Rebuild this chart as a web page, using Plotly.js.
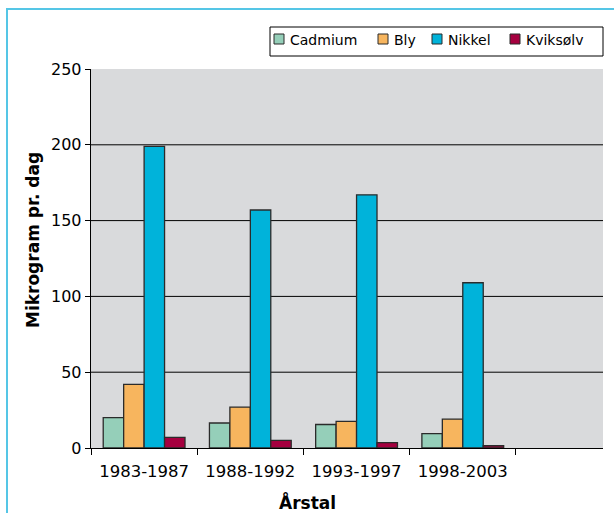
<!DOCTYPE html>
<html>
<head>
<meta charset="utf-8">
<script src="https://cdn.plot.ly/plotly-3.0.1.min.js"></script>
<style>
html, body { margin:0; padding:0; background:#ffffff; overflow:hidden; }
#frame { position:absolute; left:6px; top:8px; width:700px; height:600px; border:2px solid #55c6e6; box-sizing:border-box; }
#chart { position:absolute; left:0; top:0; width:614px; height:513px; }
</style>
</head>
<body>
<div id="frame"></div>
<div id="chart"></div>
<script>
// Data
var categories = ["1983-1987", "1988-1992", "1993-1997", "1998-2003"];
var seriesNames = ["Cadmium", "Bly", "Nikkel", "Kviksølv"];
var cadmium  = [20, 16.5, 15.5, 9.5];
var bly      = [42, 27, 17.5, 19];
var nikkel   = [199, 157, 167, 109];
var kviksolv = [7, 5, 3.5, 1.5];
var yTicks = [0, 50, 100, 150, 200, 250];
var xTitle = "Årstal";
var yTitle = "Mikrogram pr. dag";

// Styles
var colors = ["#95cfb9", "#f7b55e", "#00b3da", "#a5003f"];
var seriesValues = [cadmium, bly, nikkel, kviksolv];
var FONT = "DejaVu Sans, sans-serif";

// plot area in px
var L = 91, R = 603, T = 69, B = 448;
function px2x(p) { return (p - L) / (R - L); }
function py2y(p) { return (B - p) / (B - T); }

var traces = seriesNames.map(function (name, i) {
  return {
    type: "bar",
    name: name,
    x: categories,
    y: seriesValues[i],
    marker: { color: colors[i], line: { color: "#2b2b2b", width: 1.3 } },
    showlegend: false,
    hoverinfo: "x+y+name"
  };
});

var shapes = [];
// horizontal gridlines (inner ticks only; no line at the top edge)
yTicks.forEach(function (v, i) {
  if (i === 0 || i === yTicks.length - 1) return;
  shapes.push({
    type: "line", xref: "paper", yref: "y", layer: "between",
    x0: 0, x1: 1, y0: v, y1: v,
    line: { color: "#000000", width: 1 }
  });
});

// custom legend built from series
var legendSymX = [274, 378, 432, 510];
var legendCY = 39;
shapes.push({
  type: "rect", xref: "paper", yref: "paper",
  x0: px2x(270), x1: px2x(603), y0: py2y(27), y1: py2y(56),
  line: { color: "#000000", width: 1 }, fillcolor: "#ffffff"
});
var annotations = [];
seriesNames.forEach(function (name, i) {
  var sx = legendSymX[i];
  shapes.push({
    type: "rect", xref: "paper", yref: "paper",
    x0: px2x(sx), x1: px2x(sx + 10), y0: py2y(legendCY + 5), y1: py2y(legendCY - 5),
    line: { color: "#2b2b2b", width: 1 }, fillcolor: colors[i]
  });
  annotations.push({
    xref: "paper", yref: "paper", x: px2x(sx + 14), y: py2y(legendCY + 1),
    xanchor: "left", yanchor: "middle", showarrow: false,
    text: name, font: { family: FONT, size: 14, color: "#000000" }
  });
});
annotations.push({
  xref: "paper", yref: "paper", x: px2x(307), y: py2y(502),
  xanchor: "center", yanchor: "middle", showarrow: false,
  text: "<b>" + xTitle + "</b>", font: { family: FONT, size: 17, color: "#000000" }
});
annotations.push({
  xref: "paper", yref: "paper", x: px2x(33), y: py2y(240),
  xanchor: "center", yanchor: "middle", showarrow: false, textangle: -90,
  text: "<b>" + yTitle + "</b>", font: { family: FONT, size: 17, color: "#000000" }
});

var layout = {
  width: 614, height: 513,
  margin: { l: L, r: 614 - R, t: T, b: 513 - B, pad: 0 },
  paper_bgcolor: "rgba(0,0,0,0)",
  plot_bgcolor: "#d9dadc",
  barmode: "group",
  bargap: 0.23,
  bargroupgap: 0,
  showlegend: false,
  font: { family: FONT, size: 16, color: "#000000" },
  xaxis: {
    type: "category",
    range: [-0.5, 4.32],
    showline: true, linecolor: "#000000", linewidth: 1.3,
    ticks: "outside", tickson: "boundaries", ticklen: 6, tickcolor: "#000000", tickwidth: 1,
    ticklabelstandoff: 8,
    showgrid: false, zeroline: false,
    tickfont: { family: FONT, size: 16.5, color: "#000000" },
    fixedrange: true
  },
  yaxis: {
    range: [0, 250],
    tickvals: yTicks,
    showline: true, linecolor: "#000000", linewidth: 1.3,
    ticks: "outside", ticklen: 5, tickcolor: "#000000", tickwidth: 1,
    showgrid: false,
    zeroline: false,
    tickfont: { family: FONT, size: 16, color: "#000000" },
    fixedrange: true
  },
  shapes: shapes,
  annotations: annotations
};

Plotly.newPlot("chart", traces, layout, { displayModeBar: false, staticPlot: true });
</script>
</body>
</html>
